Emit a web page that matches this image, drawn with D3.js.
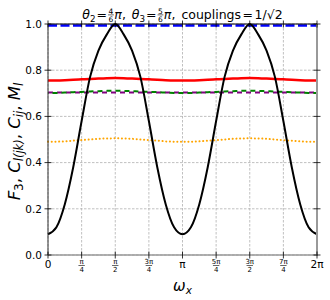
<!DOCTYPE html>
<html>
<head>
<meta charset="utf-8">
<script src="https://cdn.jsdelivr.net/npm/d3@7"></script>
<style>
  body { margin: 0; background: #fff; }
  svg { font-family: 'DejaVu Sans', sans-serif; }
  text { white-space: pre; }
</style>
</head>
<body>
<div id="chart"></div>
<script>
  // sample positions in units of pi/16
  const omegaSixteenths = [0, 1, 2, 3, 4, 5, 6, 7, 8, 9, 10, 11, 12, 13, 14, 15, 16,
    17, 18, 19, 20, 21, 22, 23, 24, 25, 26, 27, 28, 29, 30, 31, 32];

  const f3 = [0.09, 0.12, 0.22, 0.38, 0.58, 0.77, 0.885, 0.955, 1.0, 0.955, 0.885, 0.77, 0.58, 0.38, 0.22, 0.12, 0.09,
    0.12, 0.22, 0.38, 0.58, 0.77, 0.885, 0.955, 1.0, 0.955, 0.885, 0.77, 0.58, 0.38, 0.22, 0.12, 0.09];
  const cRed = [0.755, 0.7555, 0.757, 0.759, 0.7605, 0.762, 0.764, 0.7655, 0.766, 0.7655, 0.764, 0.762, 0.7605, 0.759, 0.757, 0.7555, 0.755,
    0.7555, 0.757, 0.759, 0.7605, 0.762, 0.764, 0.7655, 0.766, 0.7655, 0.764, 0.762, 0.7605, 0.759, 0.757, 0.7555, 0.755];
  const cGreen = [0.701, 0.7015, 0.703, 0.705, 0.706, 0.708, 0.709, 0.7105, 0.711, 0.7105, 0.709, 0.708, 0.706, 0.705, 0.703, 0.7015, 0.701,
    0.7015, 0.703, 0.705, 0.706, 0.708, 0.709, 0.7105, 0.711, 0.7105, 0.709, 0.708, 0.706, 0.705, 0.703, 0.7015, 0.701];
  const cOrange = [0.49, 0.4905, 0.492, 0.495, 0.4975, 0.5, 0.503, 0.5045, 0.505, 0.5045, 0.503, 0.5, 0.4975, 0.495, 0.492, 0.4905, 0.49,
    0.4905, 0.492, 0.495, 0.4975, 0.5, 0.503, 0.5045, 0.505, 0.5045, 0.503, 0.5, 0.4975, 0.495, 0.492, 0.4905, 0.49];
  const purpleLevel = 0.703;
  const blueLevel = 0.994;

  const yTicks = [0, 0.2, 0.4, 0.6, 0.8, 1.0];
  const xTickQuarters = [0, 1, 2, 3, 4, 5, 6, 7, 8];
  const xTickLabels = ['0', ['π', '4'], ['π', '2'], ['3π', '4'], 'π', ['5π', '4'], ['3π', '2'], ['7π', '4'], '2π'];

  (function () {
    'use strict';
    var width = 330;
    var height = 300;
    var mLeft = 48, mRight = 317, mTop = 24, mBottom = 255;

    var x = d3.scaleLinear().domain([0, 2 * Math.PI]).range([mLeft, mRight]);
    var y = d3.scaleLinear().domain([0, 1]).range([mBottom, mTop]);

    var svg = d3.select('#chart').append('svg')
      .attr('width', width)
      .attr('height', height);

    /* grid */
    var grid = svg.append('g');
    grid.selectAll('.gy').data(yTicks).enter().append('line')
      .attr('x1', mLeft).attr('x2', mRight)
      .attr('y1', d => y(d)).attr('y2', d => y(d))
      .attr('stroke', '#b0b0b0').attr('stroke-width', 0.8).attr('stroke-dasharray', '2.5,1.5');
    grid.selectAll('.gx').data(xTickQuarters).enter().append('line')
      .attr('x1', d => x(d * Math.PI / 4)).attr('x2', d => x(d * Math.PI / 4))
      .attr('y1', mTop).attr('y2', mBottom)
      .attr('stroke', '#b0b0b0').attr('stroke-width', 0.8).attr('stroke-dasharray', '2.5,1.5');

    function toPoints(vals) {
      return omegaSixteenths.map((k, i) => [k * Math.PI / 16, vals[i]]);
    }
    var line = d3.line()
      .x(d => x(d[0]))
      .y(d => y(d[1]))
      .curve(d3.curveMonotoneX);

    var plot = svg.append('g');

    plot.append('path').datum(toPoints(cOrange)).attr('d', line)
      .attr('fill', 'none').attr('stroke', '#ffa500').attr('stroke-width', 2)
      .attr('stroke-dasharray', '0.1,3.6').attr('stroke-linecap', 'round');

    plot.append('path').datum(toPoints(omegaSixteenths.map(() => purpleLevel))).attr('d', line)
      .attr('fill', 'none').attr('stroke', '#800080').attr('stroke-width', 2)
      .attr('stroke-dasharray', '5,4');

    plot.append('path').datum(toPoints(cGreen)).attr('d', line)
      .attr('fill', 'none').attr('stroke', '#008000').attr('stroke-width', 2)
      .attr('stroke-dasharray', '5,4').attr('stroke-dashoffset', 4.5);

    plot.append('path').datum(toPoints(cRed)).attr('d', line)
      .attr('fill', 'none').attr('stroke', '#ff0000').attr('stroke-width', 2.5);

    plot.append('path').datum(toPoints(omegaSixteenths.map(() => blueLevel))).attr('d', line)
      .attr('fill', 'none').attr('stroke', '#0000ff').attr('stroke-width', 2.5)
      .attr('stroke-dasharray', '9,3.5');

    plot.append('path').datum(toPoints(f3)).attr('d', line)
      .attr('fill', 'none').attr('stroke', '#000').attr('stroke-width', 2);

    /* spines */
    svg.append('line').attr('x1', mLeft).attr('x2', mRight).attr('y1', mTop).attr('y2', mTop)
      .attr('stroke', '#000').attr('stroke-width', 1);
    svg.append('line').attr('x1', mLeft).attr('x2', mLeft).attr('y1', mTop).attr('y2', mBottom)
      .attr('stroke', '#333').attr('stroke-width', 1);
    svg.append('line').attr('x1', mLeft).attr('x2', mRight + 1).attr('y1', mBottom).attr('y2', mBottom)
      .attr('stroke', '#999').attr('stroke-width', 1.6);
    svg.append('line').attr('x1', mRight).attr('x2', mRight).attr('y1', mTop).attr('y2', mBottom)
      .attr('stroke', '#999').attr('stroke-width', 2);

    /* ticks */
    var ticks = svg.append('g').attr('stroke', '#000').attr('stroke-width', 0.8);
    yTicks.forEach(function (t) {
      ticks.append('line').attr('x1', mLeft - 3.5).attr('x2', mLeft + 3.5).attr('y1', y(t)).attr('y2', y(t));
      ticks.append('line').attr('x1', mRight - 3.5).attr('x2', mRight + 3.5).attr('y1', y(t)).attr('y2', y(t));
    });
    xTickQuarters.forEach(function (q) {
      var xx = x(q * Math.PI / 4);
      ticks.append('line').attr('x1', xx).attr('x2', xx).attr('y1', mBottom - 3.5).attr('y2', mBottom + 3.5);
      ticks.append('line').attr('x1', xx).attr('x2', xx).attr('y1', mTop - 3.5).attr('y2', mTop + 3.5);
    });

    /* y tick labels */
    svg.append('g').selectAll('text').data(yTicks).enter().append('text')
      .attr('x', mLeft - 6).attr('y', d => y(d) + 3.8)
      .attr('text-anchor', 'end').attr('font-size', 10.5).attr('fill', '#000')
      .text(d => d.toFixed(1));

    /* x tick labels */
    var xl = svg.append('g');
    xTickQuarters.forEach(function (q, i) {
      var xx = x(q * Math.PI / 4);
      var lab = xTickLabels[i];
      if (typeof lab === 'string') {
        xl.append('text').attr('x', xx).attr('y', 268).attr('text-anchor', 'middle')
          .attr('font-size', 10.5).text(lab);
      } else {
        xl.append('text').attr('x', xx).attr('y', 264).attr('text-anchor', 'middle')
          .attr('font-size', 7).text(lab[0]);
        xl.append('line').attr('x1', xx - 3.2).attr('x2', xx + 3.2).attr('y1', 265.5).attr('y2', 265.5)
          .attr('stroke', '#000').attr('stroke-width', 0.6);
        xl.append('text').attr('x', xx).attr('y', 272).attr('text-anchor', 'middle')
          .attr('font-size', 7).text(lab[1]);
      }
    });

    /* title built from mathtext-like pieces */
    function mathRow(parts, cx, base, size) {
      var g = svg.append('g');
      var cursor = 0;
      parts.forEach(function (p) {
        if (p.frac) {
          var fs = size * 0.6;
          var n = g.append('text').attr('x', cursor).attr('y', base - size * 0.42).attr('font-size', fs).text(p.frac[0]);
          var d = g.append('text').attr('x', cursor).attr('y', base + size * 0.22).attr('font-size', fs).text(p.frac[1]);
          var w = Math.max(n.node().getComputedTextLength(), d.node().getComputedTextLength()) + 1;
          g.append('line').attr('x1', cursor).attr('x2', cursor + w)
            .attr('y1', base - size * 0.33).attr('y2', base - size * 0.33)
            .attr('stroke', '#000').attr('stroke-width', 0.6);
          n.attr('x', cursor + w / 2).attr('text-anchor', 'middle');
          d.attr('x', cursor + w / 2).attr('text-anchor', 'middle');
          cursor += w + 0.5;
        } else {
          var fsz = p.sub ? size * 0.7 : size;
          var t = g.append('text').attr('x', cursor)
            .attr('y', base + (p.sub ? size * 0.2 : 0))
            .attr('font-size', fsz)
            .attr('font-style', p.it ? 'italic' : 'normal')
            .text(p.t);
          cursor += t.node().getComputedTextLength() + (p.gap || 0);
        }
      });
      g.attr('transform', 'translate(' + (cx - cursor / 2) + ',0)');
      return g;
    }

    mathRow([
      { t: 'θ', it: true }, { t: '2', sub: true, gap: 1 }, { t: '=', gap: 1 }, { frac: ['4', '6'] }, { t: 'π', it: true }, { t: ',', gap: 6 },
      { t: 'θ', it: true }, { t: '3', sub: true, gap: 1 }, { t: '=', gap: 1 }, { frac: ['5', '6'] }, { t: 'π', it: true }, { t: ',', gap: 6 },
      { t: 'couplings', gap: 1.5 }, { t: '=', gap: 1.5 }, { t: '1/√2' }
    ], (mLeft + mRight) / 2, 19, 12.5);

    /* axis labels */
    var xlab = svg.append('text').attr('x', (mLeft + mRight) / 2).attr('y', 291)
      .attr('text-anchor', 'middle').attr('font-size', 15);
    xlab.append('tspan').attr('font-style', 'italic').text('ω');
    xlab.append('tspan').attr('font-style', 'italic').attr('font-size', 10.5).attr('dy', 3).text('x');

    var ylab = svg.append('text')
      .attr('transform', 'translate(20,' + ((mTop + mBottom) / 2 + 2) + ') rotate(-90)')
      .attr('text-anchor', 'middle').attr('font-size', 16.5);
    ylab.append('tspan').attr('font-style', 'italic').text('F');
    ylab.append('tspan').attr('font-size', 11.5).attr('dy', 3).text('3');
    ylab.append('tspan').attr('dy', -3).text(', ');
    ylab.append('tspan').attr('font-style', 'italic').text('C');
    ylab.append('tspan').attr('font-style', 'italic').attr('font-size', 11.5).attr('dy', 3).text('l(jk)');
    ylab.append('tspan').attr('dy', -3).text(', ');
    ylab.append('tspan').attr('font-style', 'italic').text('C');
    ylab.append('tspan').attr('font-style', 'italic').attr('font-size', 11.5).attr('dy', 3).text('ij');
    ylab.append('tspan').attr('dy', -3).text(', ');
    ylab.append('tspan').attr('font-style', 'italic').text('M');
    ylab.append('tspan').attr('font-style', 'italic').attr('font-size', 11.5).attr('dy', 3).text('l');
  }());
</script>
</body>
</html>
